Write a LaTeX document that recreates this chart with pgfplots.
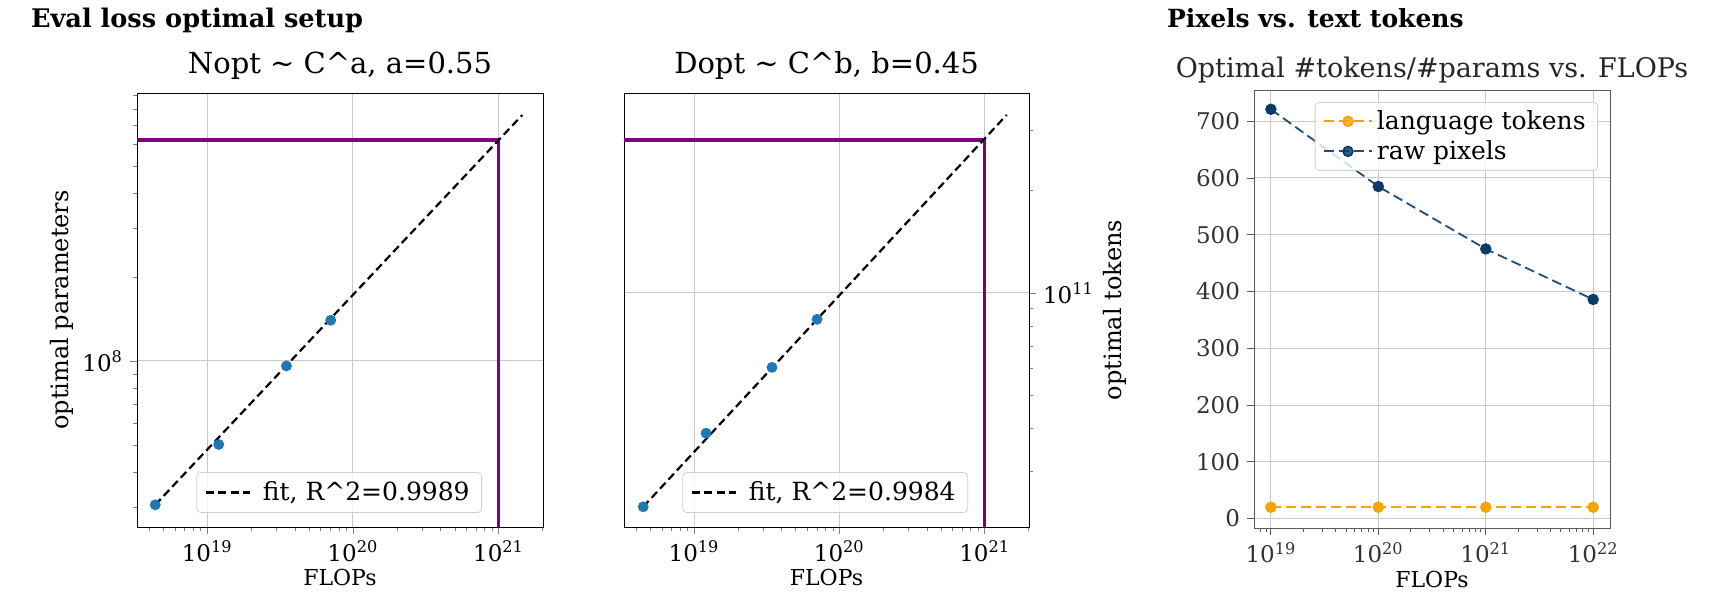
\documentclass[border=0pt]{standalone}
\usepackage{fontspec}
\setmainfont{DejaVu Serif}
\usepackage{pgfplots}
\pgfplotsset{compat=1.18}

\definecolor{tabblue}{HTML}{1F77B4}
\definecolor{optpurple}{HTML}{800080}
\definecolor{langorange}{HTML}{F5A300}
\definecolor{pixnavy}{HTML}{0B3B6B}
\definecolor{pixline}{HTML}{1E4D7B}
\definecolor{gridgray}{HTML}{C8C8C8}

\newcommand{\ticksize}{\fontsize{11.5}{13}\selectfont}
\newcommand{\labsize}{\fontsize{11}{13}\selectfont}
\newcommand{\ylabsize}{\fontsize{12}{14}\selectfont}

\begin{document}
\begin{tikzpicture}
\path[use as bounding box] (0,0) rectangle (859pt,303pt);

\node[anchor=west, font=\fontsize{12.8}{14}\selectfont\bfseries] at (12pt,293pt) {Eval loss optimal setup};
\node[anchor=west, font=\fontsize{12.5}{14}\selectfont\bfseries] at (580pt,294pt) {Pixels vs. text tokens};

% panel 1: optimal parameters
\begin{axis}[
  scale only axis, anchor=south west,
  at={(68.5pt,39.5pt)}, width=203pt, height=217pt,
  xmode=log, ymode=log,
  tick align=outside, xtick pos=left, ytick pos=left,
  major tick length=3.5pt, minor tick length=2pt,
  tick label style={font=\ticksize},
  grid=major, major grid style={gridgray, line width=0.5pt},
  xmin=3.3e18, xmax=2.02e21,
  xtick={1e19,1e20,1e21},
  xticklabels={10\textsuperscript{19},10\textsuperscript{20},10\textsuperscript{21}},
  minor xtick={4e18,5e18,6e18,7e18,8e18,9e18,2e19,3e19,4e19,5e19,6e19,7e19,8e19,9e19,
               2e20,3e20,4e20,5e20,6e20,7e20,8e20,9e20,2e21},
  ymin=2.54e7, ymax=9.14e8,
  ytick={1e8}, yticklabels={10\textsuperscript{8}},
  minor ytick={3e7,4e7,5e7,6e7,7e7,8e7,9e7,2e8,3e8,4e8,5e8,6e8,7e8,8e8,9e8},
  xlabel={FLOPs},
  xlabel style={at={(axis description cs:0.5,0)}, anchor=center, yshift=-25.5pt, font=\labsize},
  ylabel={optimal parameters},
  ylabel style={at={(axis description cs:0,0.5)}, anchor=center, yshift=37.5pt, font=\ylabsize},
  title={Nopt \textasciitilde{} C\textasciicircum a, a=0.55},
  title style={at={(axis description cs:0.5,1)}, anchor=center, yshift=7.5pt, font=\fontsize{14.5}{16}\selectfont},
  legend cell align=left,
  legend style={at={(axis description cs:1,0)}, anchor=south east, xshift=-30.5pt, yshift=7pt,
    draw=black!18, rounded corners=2pt, fill=white, fill opacity=0.8, text opacity=1,
    font=\fontsize{12.5}{14}\selectfont, inner xsep=4pt, inner ysep=2.5pt},
  legend image code/.code={\draw[#1] (0pt,0pt) -- (22pt,0pt); \path (26pt,0pt);},
]
\addplot[optpurple, line width=1.8pt, forget plot] coordinates {(3.3e18,6.19e8) (1e21,6.19e8) (1e21,2.54e7)};
\addplot[black, line width=1.1pt, dash pattern=on 4pt off 2.2pt] coordinates {(4.4e18,3.05e7) (1.455e21,7.62e8)};
\addlegendentry{fit, R\textasciicircum 2=0.9989}
\addplot[only marks, mark=*, mark size=2.5pt, tabblue, forget plot] coordinates {
  (4.4e18,3.05e7) (1.2e19,5.02e7) (3.5e19,9.6e7) (7.05e19,1.4e8)};
\end{axis}

% panel 2: optimal tokens
\begin{axis}[
  scale only axis, anchor=south west,
  at={(312pt,39.5pt)}, width=202.5pt, height=217pt,
  xmode=log, ymode=log,
  tick align=outside, xtick pos=left, ytick pos=right, yticklabel pos=right,
  major tick length=3.5pt, minor tick length=2pt,
  tick label style={font=\ticksize},
  grid=major, major grid style={gridgray, line width=0.5pt},
  xmin=3.3e18, xmax=2.02e21,
  xtick={1e19,1e20,1e21},
  xticklabels={10\textsuperscript{19},10\textsuperscript{20},10\textsuperscript{21}},
  minor xtick={4e18,5e18,6e18,7e18,8e18,9e18,2e19,3e19,4e19,5e19,6e19,7e19,8e19,9e19,
               2e20,3e20,4e20,5e20,6e20,7e20,8e20,9e20,2e21},
  ymin=2.06e10, ymax=3.86e11,
  ytick={1e11}, yticklabels={10\textsuperscript{11}},
  minor ytick={3e10,4e10,5e10,6e10,7e10,8e10,9e10,2e11,3e11},
  xlabel={FLOPs},
  xlabel style={at={(axis description cs:0.5,0)}, anchor=center, yshift=-25.5pt, font=\labsize},
  ylabel={optimal tokens},
  ylabel style={at={(axis description cs:1,0.5)}, anchor=center, yshift=-43pt, font=\ylabsize},
  title={Dopt \textasciitilde{} C\textasciicircum b, b=0.45},
  title style={at={(axis description cs:0.5,1)}, anchor=center, yshift=7.5pt, font=\fontsize{14.5}{16}\selectfont},
  legend cell align=left,
  legend style={at={(axis description cs:1,0)}, anchor=south east, xshift=-30.5pt, yshift=7pt,
    draw=black!18, rounded corners=2pt, fill=white, fill opacity=0.8, text opacity=1,
    font=\fontsize{12.5}{14}\selectfont, inner xsep=4pt, inner ysep=2.5pt},
  legend image code/.code={\draw[#1] (0pt,0pt) -- (22pt,0pt); \path (26pt,0pt);},
]
\addplot[optpurple, line width=1.8pt, forget plot] coordinates {(3.3e18,2.81e11) (1e21,2.81e11) (1e21,2.06e10)};
\addplot[black, line width=1.1pt, dash pattern=on 4pt off 2.2pt] coordinates {(4.47e18,2.36e10) (1.419e21,3.33e11)};
\addlegendentry{fit, R\textasciicircum 2=0.9984}
\addplot[only marks, mark=*, mark size=2.5pt, tabblue, forget plot] coordinates {
  (4.47e18,2.36e10) (1.21e19,3.88e10) (3.44e19,6.05e10) (7.03e19,8.37e10)};
\end{axis}

% panel 3: tokens per parameter
\begin{axis}[
  scale only axis, anchor=south west,
  at={(627pt,39pt)}, width=178pt, height=219pt,
  xmode=log,
  xmin=6.97e18, xmax=1.435e22,
  ymin=-16.6, ymax=755,
  tick align=outside, xtick pos=left, ytick pos=left,
  major tick length=3.5pt, minor tick length=2pt,
  axis line style={black!65}, every tick/.style={black!65},
  tick label style={font=\ticksize, text=black!80},
  xtick={1e19,1e20,1e21,1e22},
  xticklabels={10\textsuperscript{19},10\textsuperscript{20},10\textsuperscript{21},10\textsuperscript{22}},
  minor xtick={8e18,9e18,2e19,3e19,4e19,5e19,6e19,7e19,8e19,9e19,
               2e20,3e20,4e20,5e20,6e20,7e20,8e20,9e20,
               2e21,3e21,4e21,5e21,6e21,7e21,8e21,9e21},
  ytick={0,100,200,300,400,500,600,700},
  yticklabels={0,100,200,300,400,500,600,700},
  grid=major, major grid style={gridgray, line width=0.5pt},
  xlabel={FLOPs},
  xlabel style={at={(axis description cs:0.5,0)}, anchor=center, yshift=-25.5pt, font=\labsize},
  title={Optimal \#tokens/\#params vs. FLOPs},
  title style={at={(axis description cs:0.5,1)}, anchor=center, yshift=4pt, font=\fontsize{13.5}{15}\selectfont, text=black!85},
  legend cell align=left,
  legend style={at={(axis description cs:1,1)}, anchor=north east, xshift=-6pt, yshift=-6pt,
    draw=black!18, rounded corners=2pt, fill=white, fill opacity=0.8, text opacity=1,
    font=\fontsize{12.5}{14}\selectfont, inner xsep=4pt, inner ysep=2pt, row sep=0pt},
  legend image code/.code={\draw[#1, mark repeat=2, mark phase=2] plot coordinates {(0pt,0pt) (12pt,0pt) (24pt,0pt)};},
]
\addplot[langorange, line width=0.9pt, dash pattern=on 5pt off 2.5pt, mark=*, mark size=2.4pt,
  mark options={solid, fill=langorange, draw=langorange}]
  coordinates {(1e19,20) (1e20,20) (1e21,20) (1e22,20)};
\addlegendentry{language tokens}
\addplot[pixline, line width=0.9pt, dash pattern=on 5pt off 2.5pt, mark=*, mark size=2.4pt,
  mark options={solid, fill=pixnavy, draw=pixnavy}]
  coordinates {(1e19,721) (1e20,585) (1e21,475) (1e22,386)};
\addlegendentry{raw pixels}
\end{axis}
\end{tikzpicture}
\end{document}
